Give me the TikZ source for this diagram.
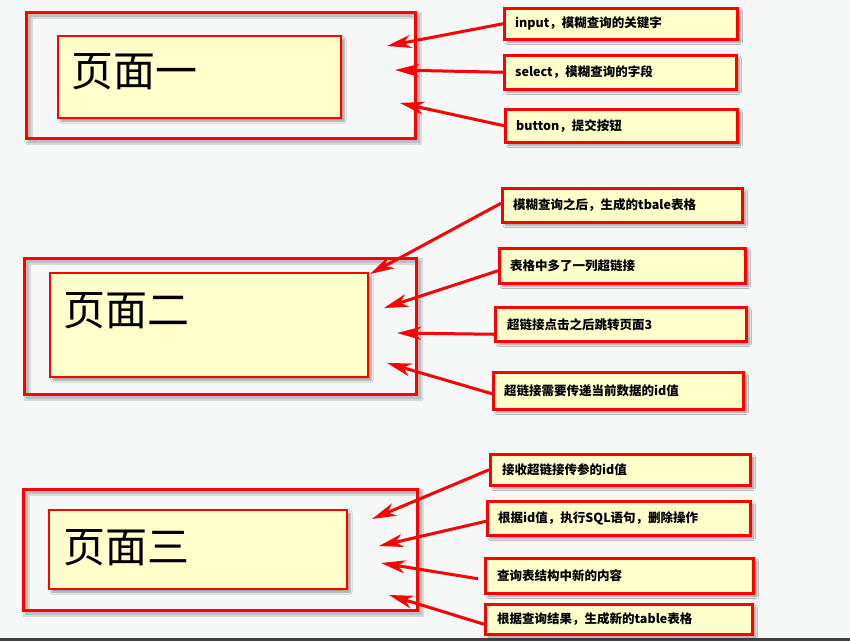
\documentclass[tikz,border=0pt]{standalone}
\usepackage{fontspec}
\setmainfont{Noto Sans CJK SC}
\usetikzlibrary{arrows.meta,shadows.blur}
\definecolor{pagebg}{HTML}{F6F8F8}
\definecolor{note}{HTML}{FFFFCC}
\definecolor{edge}{HTML}{FF0000}
\tikzset{
  outerbox/.style={draw=edge,line width=3pt},
  frameshade/.style={draw=black,line width=#1,opacity=0.12,xshift=3pt,yshift=-3pt},
  innerbox/.style={draw=edge,fill=note,line width=2pt,blur shadow={shadow xshift=3pt,shadow yshift=-3pt,shadow blur steps=6,shadow opacity=40}},
  title/.style={anchor=west,inner sep=0pt,font=\fontsize{42}{42}\selectfont},
  notebox/.style={draw=edge,fill=note,line width=2.5pt,blur shadow={shadow xshift=3pt,shadow yshift=-3pt,shadow blur steps=6,shadow opacity=40}},
  notetext/.style={anchor=west,inner sep=0pt,font=\fontsize{12.5}{13}\selectfont\bfseries},
  pointer/.style={draw=edge,line width=3pt,-{Stealth[length=24pt,width=13pt,inset=7pt]}},
}
% outline of a page frame with a soft offset shade
\newcommand\pageframe[2]{%
  \draw[frameshade=7pt] #1 rectangle #2;
  \draw[frameshade=3pt] #1 rectangle #2;
  \draw[outerbox] #1 rectangle #2;}
\begin{document}
\begin{tikzpicture}[x=1pt,y=-1pt]
\useasboundingbox (0,0) rectangle (850,641);
\fill[pagebg] (0,0) rectangle (850,641);
\fill[black!75] (0,638) rectangle (850,641);

% ---- page one ----
\pageframe{(26,12)}{(415,138)}
\draw[innerbox] (58,36) rectangle (341,118);
\node[title] (p1) at (71,72) {页面一};

\node[notebox,minimum width=233pt,minimum height=31pt,anchor=north west] (n11) at (503,7) {};
\node[notetext] at ([xshift=12pt]n11.west) {input，模糊查询的关键字};
\node[notebox,minimum width=232pt,minimum height=34pt,anchor=north west] (n12) at (503,54) {};
\node[notetext] at ([xshift=12pt]n12.west) {select，模糊查询的字段};
\node[notebox,minimum width=232pt,minimum height=33pt,anchor=north west] (n13) at (504,108) {};
\node[notetext] at ([xshift=12pt]n13.west) {button，提交按钮};

\coordinate (t11) at (387,46);
\coordinate (t12) at (395,70);
\coordinate (t13) at (400,103);
\draw[pointer] ([yshift=0pt]n11.west) -- (t11);
\draw[pointer] ([yshift=0pt]n12.west) -- (t12);
\draw[pointer] ([yshift=0pt]n13.west) -- (t13);

% ---- page two ----
\pageframe{(24,258)}{(416,394)}
\draw[innerbox] (50,273) rectangle (368,377);
\node[title] (p2) at (63,311) {页面二};

\node[notebox,minimum width=240pt,minimum height=34pt,anchor=north west] (n21) at (501,187) {};
\node[notetext] at ([xshift=12pt]n21.west) {模糊查询之后，生成的tbale表格};
\node[notebox,minimum width=246pt,minimum height=35pt,anchor=north west] (n22) at (498,247) {};
\node[notetext] at ([xshift=12pt]n22.west) {表格中多了一列超链接};
\node[notebox,minimum width=251pt,minimum height=34pt,anchor=north west] (n23) at (494,306) {};
\node[notetext] at ([xshift=13pt]n23.west) {超链接点击之后跳转页面3};
\node[notebox,minimum width=250pt,minimum height=37pt,anchor=north west] (n24) at (492,371) {};
\node[notetext] at ([xshift=12pt]n24.west) {超链接需要传递当前数据的id值};

\coordinate (t21) at (370,274);
\coordinate (t22) at (384,308);
\coordinate (t23) at (397,333);
\coordinate (t24) at (387,363);
\draw[pointer] ([yshift=2pt]n21.west) -- (t21);
\draw[pointer] ([yshift=-5pt]n22.west) -- (t22);
\draw[pointer] ([yshift=-10pt]n23.west) -- (t23);
\draw[pointer] ([yshift=-3pt]n24.west) -- (t24);

% ---- page three ----
\pageframe{(23,489)}{(417,610)}
\draw[innerbox] (49,510) rectangle (347,589);
\node[title] (p3) at (63,548) {页面三};

\node[notebox,minimum width=260pt,minimum height=31pt,anchor=north west] (n31) at (489,453) {};
\node[notetext] at ([xshift=13pt]n31.west) {接收超链接传参的id值};
\node[notebox,minimum width=263pt,minimum height=34pt,anchor=north west] (n32) at (486,500) {};
\node[notetext] at ([xshift=12pt]n32.west) {根据id值，执行SQL语句，删除操作};
\node[notebox,minimum width=268pt,minimum height=35pt,anchor=north west] (n33) at (484,557) {};
\node[notetext] at ([xshift=13pt]n33.west) {查询表结构中新的内容};
\node[notebox,minimum width=267pt,minimum height=30pt,anchor=north west] (n34) at (484,603) {};
\node[notetext] at ([xshift=13pt]n34.west) {根据查询结果，生成新的table表格};

\coordinate (t31) at (372,519);
\coordinate (t32) at (379,546);
\coordinate (t33) at (381,563);
\coordinate (t34) at (389,595);
\draw[pointer] ([yshift=0pt]n31.west) -- (t31);
\draw[pointer] ([yshift=-3pt]n32.west) -- (t32);
\draw[pointer] ([yshift=-3pt,xshift=-6pt]n33.west) -- (t33);
\draw[pointer] ([yshift=-5pt]n34.west) -- (t34);
\end{tikzpicture}
\end{document}
